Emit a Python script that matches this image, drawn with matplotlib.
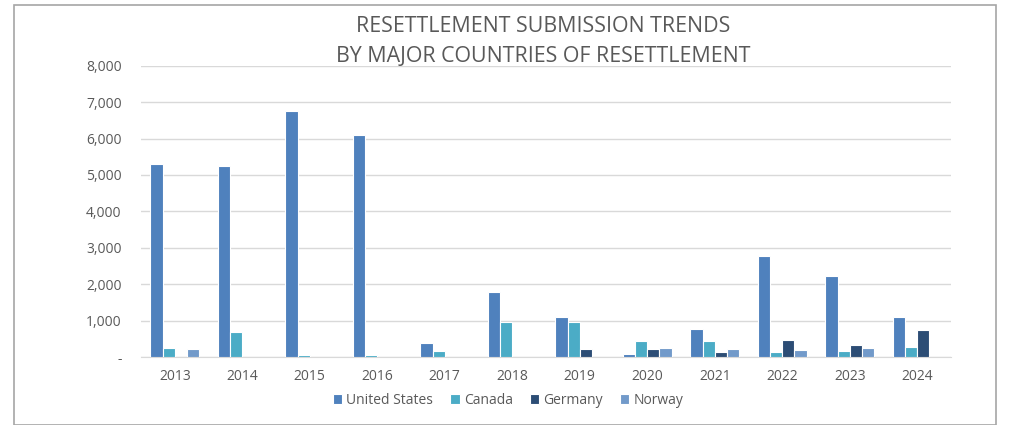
import matplotlib
matplotlib.use("Agg")
import matplotlib.pyplot as plt
import numpy as np
from matplotlib.patches import Rectangle

years = ["2013", "2014", "2015", "2016", "2017", "2018", "2019", "2020", "2021", "2022", "2023", "2024"]
united_states = [5300, 5240, 6760, 6100, 385, 1780, 1100, 80, 780, 2770, 2220, 1090]
canada = [250, 700, 65, 65, 155, 955, 955, 440, 430, 140, 165, 285]
germany = [0, 0, 0, 0, 0, 0, 210, 210, 140, 470, 320, 740]
norway = [210, 0, 0, 0, 0, 0, 0, 245, 230, 185, 245, 0]
series_names = ["United States", "Canada", "Germany", "Norway"]
colors = ["#4F81BD", "#4BACC6", "#2C4D75", "#729ACA"]

plt.rcParams['font.family'] = ['Open Sans', 'DejaVu Sans']

fig = plt.figure(figsize=(10.21, 4.25), dpi=100)
ax = fig.add_axes([141/1021, 1-357/425, (951-141)/1021, (357-65.7)/425])

x = np.arange(len(years))
w = 0.18
data = [united_states, canada, germany, norway]
for i, (vals, name, c) in enumerate(zip(data, series_names, colors)):
    ax.bar(x + (i - 1.5) * w, vals, width=w, color=c, edgecolor="white",
           linewidth=0.8, label=name, zorder=3)

ax.set_xlim(-0.5, len(years) - 0.5)
ax.set_ylim(0, 8000)
ax.set_yticks(range(0, 8001, 1000))
ax.set_yticklabels(["-"] + [f"{v:,}" for v in range(1000, 8001, 1000)])
ax.set_xticks(x)
ax.set_xticklabels(years)
ax.grid(axis="y", color="#D9D9D9", linewidth=1, zorder=0)
for s in ["top", "right", "left"]:
    ax.spines[s].set_visible(False)
ax.spines["bottom"].set_color("#D9D9D9")
ax.tick_params(axis="both", length=0, labelsize=10, colors="#595959")
ax.tick_params(axis="x", pad=9)
ax.tick_params(axis="y", pad=14)

fig.text(543/1021, 1-26/425, "RESETTLEMENT SUBMISSION TRENDS", ha="center", va="center",
         fontsize=15.4, color="#595959")
fig.text(543/1021, 1-56/425, "BY MAJOR COUNTRIES OF RESETTLEMENT", ha="center", va="center",
         fontsize=15.4, color="#595959")

leg = fig.legend(loc="center", bbox_to_anchor=(508/1021, 1-400/425), ncol=4, frameon=False,
                 fontsize=10, handlelength=0.7, handleheight=0.7, handletextpad=0.3,
                 columnspacing=1.2, labelcolor="#595959")

fig.patches.append(Rectangle((14/1021, 0.5/425), (996-14)/1021, (420)/425, transform=fig.transFigure,
                             fill=False, edgecolor="#A6A6A6", linewidth=1.2))

fig.savefig("out.png", dpi=100, facecolor="white")
